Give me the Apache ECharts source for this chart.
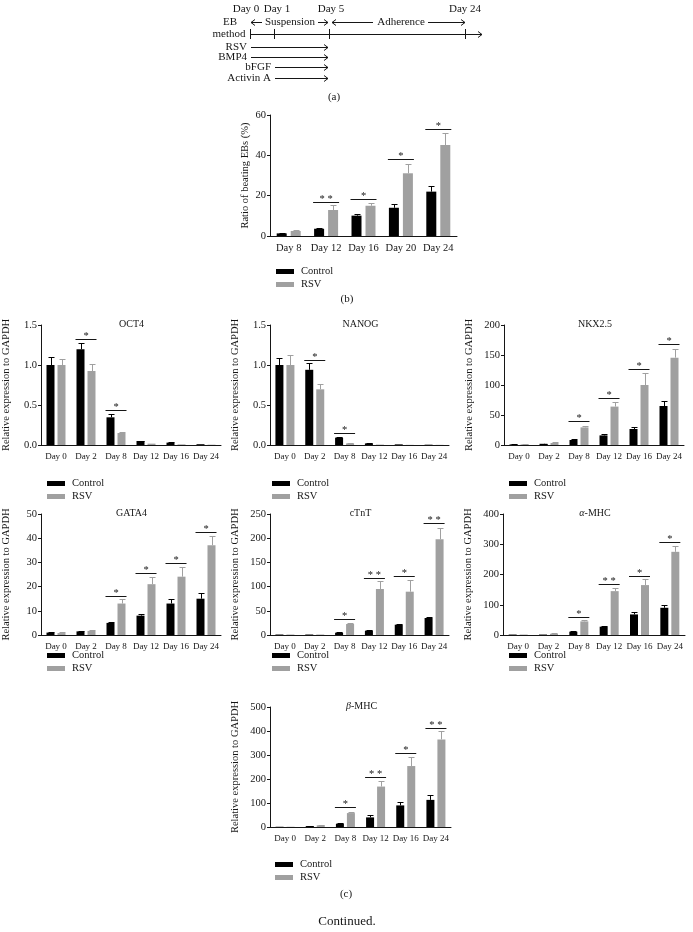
<!DOCTYPE html>
<html><head><meta charset="utf-8">
<script src="https://cdn.jsdelivr.net/npm/echarts/dist/echarts.min.js"></script>
<style>html,body{margin:0;padding:0;background:#fff}#c{width:693px;height:932px}</style>
</head><body><div id="c"></div>
<script>
// ================= DATA =================
// (a) scheme
const schemeDays = ['Day 0', 'Day 1', 'Day 5', 'Day 24'];
const schemePhases = ['Suspension', 'Adherence'];
const schemeFactors = ['RSV', 'BMP4', 'bFGF', 'Activin A'];
const schemeFactorStart = ['Day 0', 'Day 0', 'Day 1', 'Day 1'];
const schemeFactorEnd = ['Day 5', 'Day 5', 'Day 5', 'Day 5'];

// (b) beating EBs
const beatDays = ['Day 8', 'Day 12', 'Day 16', 'Day 20', 'Day 24'];
const beatControl = [1.3, 3.6, 10.1, 14.0, 22.0];
const beatControlErr = [0.3, 0.5, 1.0, 1.9, 3.0];
const beatRSV = [2.5, 12.9, 15.0, 31.1, 45.1];
const beatRSVErr = [0.5, 2.5, 1.5, 4.8, 5.8];
const beatSigLevel = [null, 16.7, 18.3, 38.2, 53.1];
const beatSigMark = ['', '**', '*', '*', '*'];
const beatTicks = [0, 20, 40, 60];

// (c) relative expression
const exprDays = ['Day 0', 'Day 2', 'Day 8', 'Day 12', 'Day 16', 'Day 24'];

const oct4Control = [1.0, 1.196, 0.346, 0.05, 0.03, 0.01];
const oct4ControlErr = [0.096, 0.074, 0.044, 0.005, 0.004, 0];
const oct4RSV = [1.0, 0.925, 0.15, 0.017, 0.008, 0.004];
const oct4RSVErr = [0.07, 0.083, 0.01, 0, 0, 0];
const oct4SigLevel = [null, 1.325, 0.4375, null, null, null];
const oct4SigMark = ['', '*', '*', '', '', ''];
const oct4Ticks = [0, 0.5, 1.0, 1.5];

const nanogControl = [1.0, 0.94, 0.092, 0.02, 0.008, 0.004];
const nanogControlErr = [0.085, 0.08, 0.008, 0.003, 0, 0];
const nanogRSV = [1.0, 0.696, 0.02, 0.005, 0.002, 0.002];
const nanogRSVErr = [0.13, 0.064, 0.003, 0, 0, 0];
const nanogSigLevel = [null, 1.06, 0.154, null, null, null];
const nanogSigMark = ['', '*', '*', '', '', ''];
const nanogTicks = [0, 0.5, 1.0, 1.5];

const nkxControl = [1, 2, 8.3, 16, 26.7, 65];
const nkxControlErr = [0.3, 0.4, 1.7, 2, 2.5, 8];
const nkxRSV = [1, 3.3, 29.4, 64, 100, 145.6];
const nkxRSVErr = [0.3, 1.1, 2.6, 8, 20.5, 13.8];
const nkxSigLevel = [null, null, 40, 77.8, 126, 168];
const nkxSigMark = ['', '', '*', '*', '*', '*'];
const nkxTicks = [0, 50, 100, 150, 200];

const gata4Control = [1.0, 1.5, 5.0, 8.0, 13.0, 15.0];
const gata4ControlErr = [0.1, 0.3, 0.5, 0.7, 2.0, 2.3];
const gata4RSV = [0.8, 1.7, 13.0, 21.0, 24.1, 37.1];
const gata4RSVErr = [0.3, 0.2, 2.0, 3.1, 3.9, 4.0];
const gata4SigLevel = [null, null, 16.3, 25.6, 29.8, 42.7];
const gata4SigMark = ['', '', '*', '*', '*', '*'];
const gata4Ticks = [0, 10, 20, 30, 40, 50];

const ctntControl = [1, 1, 4.8, 9, 21.3, 35.1];
const ctntControlErr = [0, 0, 0.5, 1.3, 1.4, 2.8];
const ctntRSV = [1, 1, 22.7, 95, 89.5, 197.7];
const ctntRSVErr = [0, 0, 1.3, 16, 24.1, 24.1];
const ctntSigLevel = [null, null, 32.4, 118.5, 122, 230.7];
const ctntSigMark = ['', '', '*', '**', '*', '**'];
const ctntTicks = [0, 50, 100, 150, 200, 250];

const amhcControl = [1.5, 1.5, 11, 27.5, 68, 90];
const amhcControlErr = [0, 0, 2, 2.2, 7, 9];
const amhcRSV = [1.5, 4, 45, 145, 165, 275];
const amhcRSVErr = [0, 1, 3.5, 11, 21, 20];
const amhcSigLevel = [null, null, 60.6, 167.5, 196, 307];
const amhcSigMark = ['', '', '*', '**', '*', '*'];
const amhcTicks = [0, 100, 200, 300, 400];

const bmhcControl = [1, 4, 13.8, 40, 90, 113];
const bmhcControlErr = [0, 0.8, 2.8, 8, 15, 19.6];
const bmhcRSV = [1, 7, 58, 168.5, 254, 365];
const bmhcRSVErr = [0, 2.7, 4, 23.5, 36, 33];
const bmhcSigLevel = [null, null, 82.9, 207, 309, 411.6];
const bmhcSigMark = ['', '', '*', '**', '*', '**'];
const bmhcTicks = [0, 100, 200, 300, 400, 500];

const seriesNames = ['Control', 'RSV'];
const yNameExpr = 'Relative expression to GAPDH';
const yNameBeat = 'Ratio of beating EBs (%)';

// ================= STYLE / LAYOUT =================
const FONT = '"Liberation Serif", "Times New Roman", serif';
const C_CTRL = '#000000';
const C_RSV = '#a0a0a0';
const INK = '#161616';

const panels = [
  { key: 'beat', title: '', cats: beatDays, ctrl: beatControl, ctrlErr: beatControlErr, rsv: beatRSV, rsvErr: beatRSVErr,
    sig: beatSigLevel, mark: beatSigMark, ticks: beatTicks, dec: 0, yName: yNameBeat,
    grid: { left: 270, top: 115, width: 187, height: 121 }, nameGap: 19, catFont: 10.5, barW: 10, gap: 4,
    legend: { left: 271, top: 261 } },
  { key: 'oct4', title: 'OCT4', cats: exprDays, ctrl: oct4Control, ctrlErr: oct4ControlErr, rsv: oct4RSV, rsvErr: oct4RSVErr,
    sig: oct4SigLevel, mark: oct4SigMark, ticks: oct4Ticks, dec: 1, yName: yNameExpr,
    grid: { left: 40, top: 325, width: 181, height: 120 }, nameGap: 29, catFont: 9, barW: 8, gap: 3,
    legend: { left: 42, top: 473 } },
  { key: 'nanog', title: 'NANOG', cats: exprDays, ctrl: nanogControl, ctrlErr: nanogControlErr, rsv: nanogRSV, rsvErr: nanogRSVErr,
    sig: nanogSigLevel, mark: nanogSigMark, ticks: nanogTicks, dec: 1, yName: yNameExpr,
    grid: { left: 270, top: 325, width: 179, height: 120 }, nameGap: 29, catFont: 9, barW: 8, gap: 3,
    legend: { left: 267, top: 473 } },
  { key: 'nkx', title: 'NKX2.5', cats: exprDays, ctrl: nkxControl, ctrlErr: nkxControlErr, rsv: nkxRSV, rsvErr: nkxRSVErr,
    sig: nkxSigLevel, mark: nkxSigMark, ticks: nkxTicks, dec: 0, yName: yNameExpr,
    grid: { left: 504, top: 325, width: 180, height: 120 }, nameGap: 29, catFont: 9, barW: 8, gap: 3,
    legend: { left: 504, top: 473 } },
  { key: 'gata4', title: 'GATA4', cats: exprDays, ctrl: gata4Control, ctrlErr: gata4ControlErr, rsv: gata4RSV, rsvErr: gata4RSVErr,
    sig: gata4SigLevel, mark: gata4SigMark, ticks: gata4Ticks, dec: 0, yName: yNameExpr,
    grid: { left: 40, top: 514, width: 181, height: 121 }, nameGap: 29, catFont: 9, barW: 8, gap: 3,
    legend: { left: 42, top: 645 } },
  { key: 'ctnt', title: 'cTnT', cats: exprDays, ctrl: ctntControl, ctrlErr: ctntControlErr, rsv: ctntRSV, rsvErr: ctntRSVErr,
    sig: ctntSigLevel, mark: ctntSigMark, ticks: ctntTicks, dec: 0, yName: yNameExpr,
    grid: { left: 270, top: 514, width: 179, height: 121 }, nameGap: 29, catFont: 9, barW: 8, gap: 3,
    legend: { left: 267, top: 645 } },
  { key: 'amhc', title: '{i|α}-MHC', cats: exprDays, ctrl: amhcControl, ctrlErr: amhcControlErr, rsv: amhcRSV, rsvErr: amhcRSVErr,
    sig: amhcSigLevel, mark: amhcSigMark, ticks: amhcTicks, dec: 0, yName: yNameExpr,
    grid: { left: 503, top: 514, width: 182, height: 121 }, nameGap: 29, catFont: 9, barW: 8, gap: 3,
    legend: { left: 504, top: 645 } },
  { key: 'bmhc', title: '{i|β}-MHC', cats: exprDays, ctrl: bmhcControl, ctrlErr: bmhcControlErr, rsv: bmhcRSV, rsvErr: bmhcRSVErr,
    sig: bmhcSigLevel, mark: bmhcSigMark, ticks: bmhcTicks, dec: 0, yName: yNameExpr,
    grid: { left: 270, top: 707, width: 181, height: 120 }, nameGap: 29, catFont: 9, barW: 8, gap: 3,
    legend: { left: 270, top: 854 } }
];

// ================= BUILD =================
const grids = [], xAxes = [], yAxes = [], series = [], titles = [], legends = [];

function errSeries(name, gi, vals, errs, off, color, cap) {
  return {
    type: 'custom', name: name + ' error', xAxisIndex: gi, yAxisIndex: gi, z: 4, silent: true,
    data: vals.map((v, i) => [i, v, errs[i]]),
    renderItem(params, api) {
      const i = api.value(0), v = api.value(1), e = api.value(2);
      if (!e) return null;
      const p = api.coord([i, v]);
      const t = api.coord([i, v + e]);
      const x = Math.round(p[0] + off) + 0.5;
      const ty = Math.round(t[1]) + 0.5;
      return { type: 'group', children: [
        { type: 'line', shape: { x1: x, y1: p[1], x2: x, y2: ty }, style: { stroke: color, lineWidth: 1 } },
        { type: 'line', shape: { x1: x - cap, y1: ty, x2: x + cap, y2: ty }, style: { stroke: color, lineWidth: 1 } }
      ] };
    }
  };
}

function sigSeries(gi, levels, marks, half, font) {
  const data = [];
  levels.forEach((l, i) => { if (l != null) data.push([i, l]); });
  return {
    type: 'custom', name: 'sig', xAxisIndex: gi, yAxisIndex: gi, z: 5, silent: true,
    data,
    renderItem(params, api) {
      const i = api.value(0), l = api.value(1);
      const c = api.coord([i, l]);
      const y = Math.round(c[1]) + 0.5;
      const m = marks[i];
      return { type: 'group', children: [
        { type: 'line', shape: { x1: c[0] - half, y1: y, x2: c[0] + half, y2: y }, style: { stroke: INK, lineWidth: 1 } },
        { type: 'text', style: { text: m.split('').join(' '), x: c[0], y: y - 3, align: 'center', verticalAlign: 'middle',
          fontSize: font, fontFamily: FONT, fill: INK } }
      ] };
    }
  };
}

panels.forEach((p, gi) => {
  grids.push(Object.assign({ containLabel: false }, p.grid));
  const t = p.ticks;
  xAxes.push({
    type: 'category', gridIndex: gi, data: p.cats,
    axisLine: { lineStyle: { color: INK, width: 1 } },
    axisTick: { alignWithLabel: true, length: 3, lineStyle: { color: INK } },
    axisLabel: { interval: 0, color: INK, fontFamily: FONT, fontSize: p.catFont, margin: 7 }
  });
  yAxes.push({
    type: 'value', gridIndex: gi, min: t[0], max: t[t.length - 1], interval: t[1] - t[0],
    name: p.yName, nameLocation: 'middle', nameGap: p.nameGap, nameRotate: 90,
    nameTextStyle: { color: INK, fontFamily: FONT, fontSize: 10.5 },
    axisLine: { show: true, lineStyle: { color: INK, width: 1 } },
    axisTick: { show: true, length: 3, lineStyle: { color: INK } },
    splitLine: { show: false },
    axisLabel: { color: INK, fontFamily: FONT, fontSize: 10.5, margin: 4,
      formatter: v => v.toFixed(p.dec) }
  });
  const gapPct = (p.gap / p.barW * 100) + '%';
  const off = (p.barW + p.gap) / 2;
  series.push({ type: 'bar', name: seriesNames[0], xAxisIndex: gi, yAxisIndex: gi, data: p.ctrl,
    barWidth: p.barW, barGap: gapPct, itemStyle: { color: C_CTRL }, silent: true });
  series.push({ type: 'bar', name: seriesNames[1], xAxisIndex: gi, yAxisIndex: gi, data: p.rsv,
    barWidth: p.barW, barGap: gapPct, itemStyle: { color: C_RSV }, silent: true });
  series.push(errSeries('Control', gi, p.ctrl, p.ctrlErr, -off, C_CTRL, 3));
  series.push(errSeries('RSV', gi, p.rsv, p.rsvErr, off, C_RSV, 3));
  series.push(sigSeries(gi, p.sig, p.mark, off + p.barW / 2 + 1, 10.5));
  if (p.title) {
    titles.push({ text: p.title, left: p.grid.left + p.grid.width / 2 - 4, top: p.grid.top - 11, textAlign: 'center',
      textStyle: { fontFamily: FONT, fontSize: 10, fontWeight: 'normal', color: INK,
        rich: { i: { fontFamily: FONT, fontStyle: 'italic', fontSize: 10, color: INK } } } });
  }
  legends.push({ orient: 'vertical', left: p.legend.left, top: p.legend.top, data: seriesNames,
    icon: 'rect', itemWidth: 18, itemHeight: 5, itemGap: 2, selectedMode: false,
    textStyle: { fontFamily: FONT, fontSize: 10.5, color: INK, padding: [0, 0, 0, 2] } });
});

// ---- (a) scheme drawn as graphic ----
const schemeX = { 'Day 0': 250, 'Day 1': 274, 'Day 5': 329, 'Day 24': 465 };
const schemeLabelShift = { 'Day 0': -4, 'Day 1': 3, 'Day 5': 2, 'Day 24': 0 };
const S_LINE_Y = 34, S_END = 482;
const g = [];
const sTxt = (text, x, y, align) => ({ type: 'text', style: { text, x, y, align: align || 'center', verticalAlign: 'middle',
  fontFamily: FONT, fontSize: 11, fill: INK } });
const sLine = (x1, y1, x2, y2) => ({ type: 'line', shape: { x1, y1, x2, y2 }, style: { stroke: INK, lineWidth: 1 } });
const sHead = (x, y, dir) => ({ type: 'polyline', shape: { points: [[x - 4 * dir, y - 3], [x, y], [x - 4 * dir, y + 3]] },
  style: { stroke: INK, lineWidth: 1, fill: null } });

g.push(sLine(schemeX['Day 0'], S_LINE_Y + 0.5, S_END, S_LINE_Y + 0.5), sHead(S_END, S_LINE_Y + 0.5, 1));
schemeDays.forEach(d => {
  const x = schemeX[d] + 0.5;
  g.push(sLine(x, S_LINE_Y - 5, x, S_LINE_Y + 5));
  g.push(sTxt(d, schemeX[d] + schemeLabelShift[d], 9));
});
g.push(sTxt('EB', 230, 22), sTxt('method', 229, 34));
const yP = 22.5;
g.push(sLine(251, yP, 262, yP), sHead(251, yP, -1), sTxt(schemePhases[0], 290, 22));
g.push(sLine(318, yP, 328, yP), sHead(328, yP, 1));
g.push(sLine(332, yP, 373, yP), sHead(332, yP, -1), sTxt(schemePhases[1], 401, 22));
g.push(sLine(428, yP, 465, yP), sHead(465, yP, 1));
const factorY = [47, 57, 67, 78];
schemeFactors.forEach((f, k) => {
  const x0 = schemeX[schemeFactorStart[k]] + 1;
  const x1 = schemeX[schemeFactorEnd[k]] - 1;
  const y = factorY[k] + 0.5;
  g.push(sTxt(f, x0 - 4, factorY[k], 'right'));
  g.push(sLine(x0, y, x1, y), sHead(x1, y, 1));
});
g.push(sTxt('(a)', 334, 97));
g.push(sTxt('(b)', 347, 299));
g.push(sTxt('(c)', 346, 894));
g.push({ type: 'text', style: { text: 'Continued.', x: 347, y: 922, align: 'center', verticalAlign: 'middle',
  fontFamily: FONT, fontSize: 13, fill: INK } });

const chart = echarts.init(document.getElementById('c'), null, { renderer: 'canvas' });
chart.setOption({
  backgroundColor: '#ffffff',
  animation: false,
  title: titles,
  legend: legends,
  grid: grids,
  xAxis: xAxes,
  yAxis: yAxes,
  series,
  graphic: [{ type: 'group', children: g }]
});
</script>
</body></html>
